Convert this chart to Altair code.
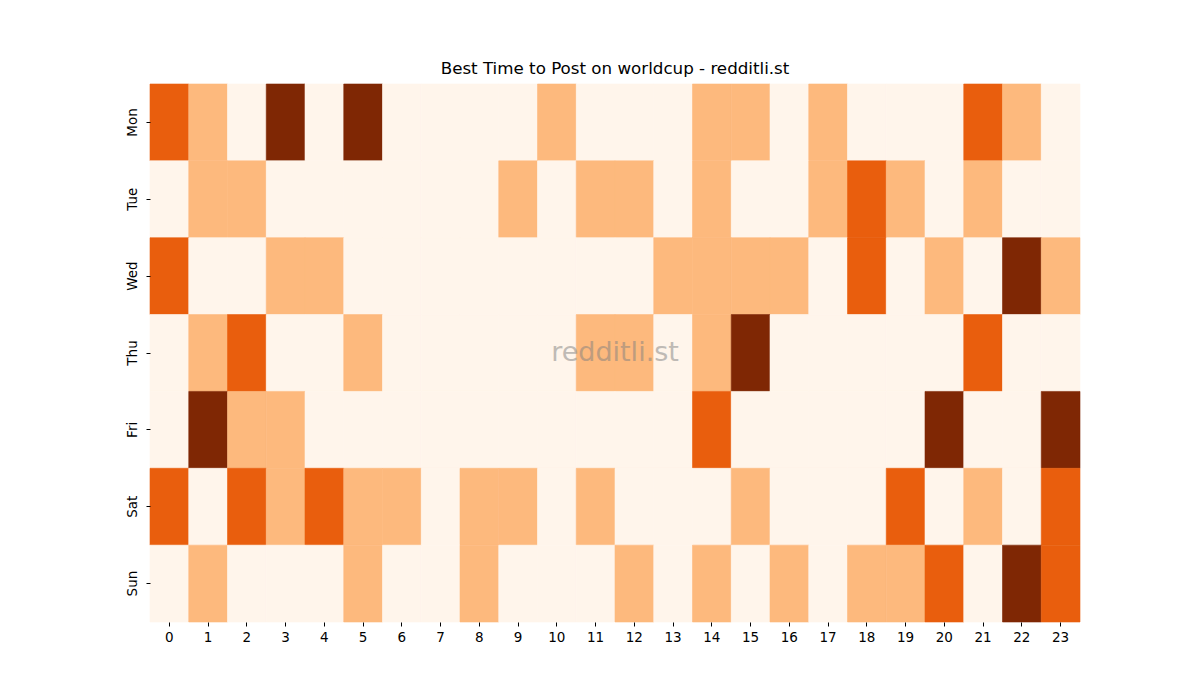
import altair as alt
import pandas as pd

days = ["Mon", "Tue", "Wed", "Thu", "Fri", "Sat", "Sun"]
hours = list(range(24))

mon = [2, 1, 0, 3, 0, 3, 0, 0, 0, 0, 1, 0, 0, 0, 1, 1, 0, 1, 0, 0, 0, 2, 1, 0]
tue = [0, 1, 1, 0, 0, 0, 0, 0, 0, 1, 0, 1, 1, 0, 1, 0, 0, 1, 2, 1, 0, 1, 0, 0]
wed = [2, 0, 0, 1, 1, 0, 0, 0, 0, 0, 0, 0, 0, 1, 1, 1, 1, 0, 2, 0, 1, 0, 3, 1]
thu = [0, 1, 2, 0, 0, 1, 0, 0, 0, 0, 0, 1, 1, 0, 1, 3, 0, 0, 0, 0, 0, 2, 0, 0]
fri = [0, 3, 1, 1, 0, 0, 0, 0, 0, 0, 0, 0, 0, 0, 2, 0, 0, 0, 0, 0, 3, 0, 0, 3]
sat = [2, 0, 2, 1, 2, 1, 1, 0, 1, 1, 0, 1, 0, 0, 0, 1, 0, 0, 0, 2, 0, 1, 0, 2]
sun = [0, 1, 0, 0, 0, 1, 0, 0, 1, 0, 0, 0, 1, 0, 1, 0, 1, 0, 1, 1, 2, 0, 3, 2]

levels = [0, 1, 2, 3]
colors = ["#fff5eb", "#fdb97d", "#e95e0d", "#7f2704"]

rows = []
for d, vals in zip(days, [mon, tue, wed, thu, fri, sat, sun]):
    for h, v in zip(hours, vals):
        rows.append({"day": d, "hour": h, "value": v})
df = pd.DataFrame(rows)

cscale = alt.Scale(domain=levels, range=colors)

heat = alt.Chart(df).mark_rect(strokeWidth=0.6, opacity=1, fillOpacity=1, strokeOpacity=1).encode(
    x=alt.X("hour:O", sort=hours, title=None,
            axis=alt.Axis(labelAngle=0, domain=False, tickSize=4, tickColor="#000",
                          labelFont="DejaVu Sans", labelFontSize=13.5, labelColor="#000",
                          labelPadding=4)),
    y=alt.Y("day:O", sort=days, title=None,
            axis=alt.Axis(labelAngle=270, labelAlign="center", labelBaseline="bottom",
                          domain=False, tickSize=4, tickColor="#000",
                          labelFont="DejaVu Sans", labelFontSize=13.5, labelColor="#000",
                          labelPadding=7)),
    color=alt.Color("value:O", scale=cscale, legend=None),
    stroke=alt.Stroke("value:O", scale=cscale, legend=None),
)

wm = alt.Chart(pd.DataFrame({"t": ["redditli.st"]})).mark_text(
    font="DejaVu Sans", fontSize=27, color="#808080", opacity=0.5,
    align="center", baseline="middle"
).encode(x=alt.value(465), y=alt.value(269), text="t:N")

chart = alt.layer(heat, wm).properties(
    width=930, height=538,
    title=alt.TitleParams("Best Time to Post on worldcup - redditli.st",
                          font="DejaVu Sans", fontSize=16.7, fontWeight="normal",
                          color="#000", offset=6),
    autosize=alt.AutoSizeParams(type="none"),
    padding={"left": 150, "top": 84, "right": 120, "bottom": 78},
).configure_view(stroke=None).configure_scale(bandPaddingInner=0, bandPaddingOuter=0)

chart.save("out.html", embed_options={"renderer": "svg", "actions": False})
